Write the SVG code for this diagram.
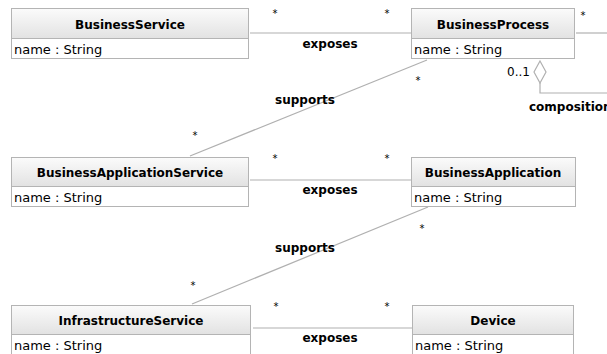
<svg xmlns="http://www.w3.org/2000/svg" width="607" height="354" viewBox="0 0 607 354">
<defs>
<linearGradient id="hg" x1="0" y1="0" x2="0" y2="1">
<stop offset="0" stop-color="#fbfbfb"/>
<stop offset="1" stop-color="#e2e2e2"/>
</linearGradient>
</defs>
<style>
.box{fill:#fff;stroke:#b4b4b4;stroke-width:1}
.hdr{fill:url(#hg);stroke:#b4b4b4;stroke-width:1}
.title{font-family:"DejaVu Sans",sans-serif;font-weight:bold;font-size:12px;text-anchor:middle;fill:#000}
.attr{font-family:"DejaVu Sans",sans-serif;font-size:13px;fill:#000}
.edge{stroke:#b0b0b0;stroke-width:1.2;fill:none}
.lbl{font-family:"DejaVu Sans",sans-serif;font-weight:bold;font-size:12px;fill:#000}
.mult{font-family:"DejaVu Sans",sans-serif;font-size:10px;fill:#000;text-anchor:middle}
</style>
<rect width="607" height="354" fill="#fff"/>
<g id="connectors">
<line class="edge" x1="250" y1="33" x2="411" y2="33"/>
<line class="edge" x1="576" y1="33" x2="607" y2="33"/>
<line class="edge" x1="427" y1="60" x2="190" y2="156"/>
<line class="edge" x1="250" y1="180" x2="411" y2="180"/>
<line class="edge" x1="428" y1="207" x2="192" y2="304"/>
<line class="edge" x1="253" y1="328" x2="412" y2="328"/>
<polygon class="edge" points="540,61 546,72 540,83 534,72" fill="#fff"/>
<polyline class="edge" points="540,83 540,93 607,93"/>
<text class="mult" x="275" y="17">*</text>
<text class="mult" x="387" y="17">*</text>
<text class="mult" x="583" y="19">*</text>
<text class="lbl" x="330" y="48" text-anchor="middle">exposes</text>
<text class="mult" x="418" y="84">*</text>
<text class="mult" x="195" y="139">*</text>
<text class="lbl" x="305" y="104" text-anchor="middle">supports</text>
<text class="attr" x="507" y="76" style="font-size:12px">0..1</text>
<text class="lbl" x="529" y="111">composition</text>
<text class="mult" x="275" y="162">*</text>
<text class="mult" x="387" y="162">*</text>
<text class="lbl" x="330" y="194" text-anchor="middle">exposes</text>
<text class="mult" x="422" y="232">*</text>
<text class="mult" x="193" y="289">*</text>
<text class="lbl" x="305" y="252" text-anchor="middle">supports</text>
<text class="mult" x="276" y="310">*</text>
<text class="mult" x="387" y="310">*</text>
<text class="lbl" x="330" y="342" text-anchor="middle">exposes</text>
</g>
<g id="BusinessService">
<rect class="box" x="11.5" y="8.5" width="237" height="50"/>
<rect class="hdr" x="11.5" y="8.5" width="237" height="30"/>
<text class="title" x="130" y="29">BusinessService</text>
<text class="attr" x="14" y="54">name : String</text>
</g>
<g id="BusinessProcess">
<rect class="box" x="411.5" y="8.5" width="163" height="50"/>
<rect class="hdr" x="411.5" y="8.5" width="163" height="30"/>
<text class="title" x="493" y="29">BusinessProcess</text>
<text class="attr" x="414" y="54">name : String</text>
</g>
<g id="BusinessApplicationService">
<rect class="box" x="11.5" y="157.5" width="237" height="49"/>
<rect class="hdr" x="11.5" y="157.5" width="237" height="29"/>
<text class="title" x="130" y="177">BusinessApplicationService</text>
<text class="attr" x="14" y="202">name : String</text>
</g>
<g id="BusinessApplication">
<rect class="box" x="411.5" y="157.5" width="164" height="49"/>
<rect class="hdr" x="411.5" y="157.5" width="164" height="29"/>
<text class="title" x="493" y="177">BusinessApplication</text>
<text class="attr" x="414" y="202">name : String</text>
</g>
<g id="InfrastructureService">
<rect class="box" x="11.5" y="305.5" width="239" height="55"/>
<rect class="hdr" x="11.5" y="305.5" width="239" height="29"/>
<text class="title" x="131" y="325">InfrastructureService</text>
<text class="attr" x="14" y="350">name : String</text>
</g>
<g id="Device">
<rect class="box" x="412.5" y="305.5" width="161" height="55"/>
<rect class="hdr" x="412.5" y="305.5" width="161" height="29"/>
<text class="title" x="493" y="325">Device</text>
<text class="attr" x="415" y="350">name : String</text>
</g>
</svg>
